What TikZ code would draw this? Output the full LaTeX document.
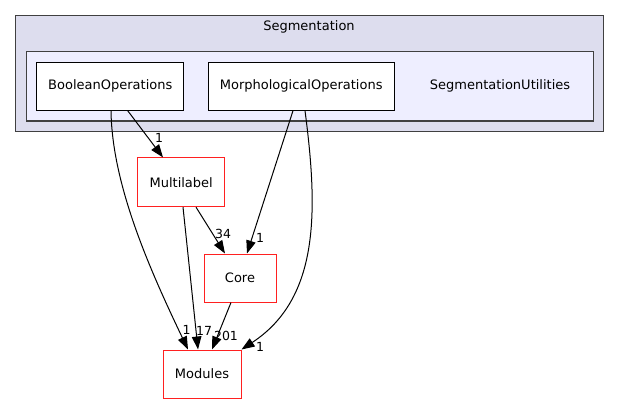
\documentclass[tikz,border=0pt]{standalone}
\usepackage{fontspec}
\setmainfont{DejaVu Sans}
\usetikzlibrary{arrows.meta}
\definecolor{clusterouter}{HTML}{DDDDEE}
\definecolor{clusterinner}{HTML}{EEEEFF}
\definecolor{clusterline}{HTML}{404040}
\definecolor{dirred}{HTML}{FF2020}
\begin{document}
\begin{tikzpicture}[x=1pt,y=-1pt,
  cluster/.style={draw=clusterline, line width=1.3pt, inner sep=0pt},
  dirbox/.style={draw=black, fill=white, line width=1pt, minimum height=48, inner sep=0pt, font=\fontsize{13}{15}\selectfont},
  extbox/.style={draw=dirred, fill=white, line width=1pt, minimum height=48, inner sep=0pt, font=\fontsize{13}{15}\selectfont},
  ctext/.style={inner sep=0pt, font=\fontsize{13}{15}\selectfont},
  elabel/.style={inner sep=0pt, font=\fontsize{12.5}{14}\selectfont},
  dep/.style={draw=black, line width=1pt, -{Triangle[length=13pt,width=9.5pt]}}]
\useasboundingbox (0,0) rectangle (620,404);
% clusters
\node[cluster, fill=clusterouter, minimum width=588, minimum height=116] (segm) at (309.7,73.7) {};
\node[ctext] (segmlabel) at (309,27) {Segmentation};
\node[cluster, fill=clusterinner, minimum width=566.6, minimum height=69.3] (segutil) at (310,86.35) {};
\node[ctext] (segutillabel) at (500,86) {SegmentationUtilities};
% nodes
\node[dirbox, minimum width=147.3] (bool) at (110.3,86.2) {BooleanOperations};
\node[dirbox, minimum width=185.7] (morph) at (301.2,86.2) {MorphologicalOperations};
\node[extbox, minimum width=87, minimum height=48.7] (multi) at (181.2,182.3) {Multilabel};
\node[extbox, minimum width=72] (core) at (240,278) {Core};
\node[extbox, minimum width=78] (modules) at (202,374) {Modules};
% edges
\draw[dep] ([xshift=17.4]bool.south) -- ([xshift=-18.2]multi.north);
\node[elabel] (l1) at (159,137.7) {1};
\draw[dep] ([xshift=0.7]bool.south) .. controls (112,185) and (150,270) .. ([xshift=-14]modules.north);
\node[elabel] (l2) at (186.7,330) {1};
\draw[dep] ([xshift=-8.2]morph.south) -- ([xshift=7]core.north);
\node[elabel] (l3) at (260,238) {1};
\draw[dep] ([xshift=3.8]morph.south) .. controls (318,210) and (320,298) .. (modules.north east);
\node[elabel] (l4) at (260,347) {1};
\draw[dep] ([xshift=14.8]multi.south) -- ([xshift=-15]core.north);
\node[elabel] (l5) at (223,234) {34};
\draw[dep] ([xshift=1.8]multi.south) -- ([xshift=-4]modules.north);
\node[elabel] (l6) at (204,330.7) {17};
\draw[dep] ([xshift=-9]core.south) -- ([xshift=10]modules.north);
\node[elabel] (l7) at (226,335.7) {201};
\end{tikzpicture}
\end{document}
